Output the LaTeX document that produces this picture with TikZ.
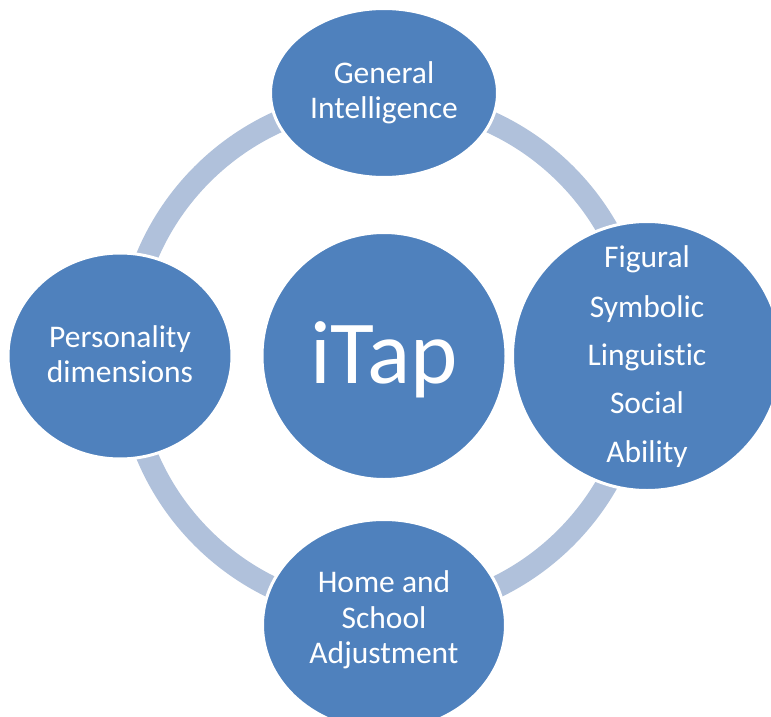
\documentclass[tikz,border=0pt]{standalone}
\usepackage{fontspec}
\setmainfont[Ligatures=NoCommon]{Carlito}
\usetikzlibrary{shapes.geometric}
\definecolor{shapeblue}{RGB}{79,129,189}
\definecolor{ringblue}{RGB}{176,193,219}
\begin{document}
\begin{tikzpicture}[x=1pt,y=-1pt,
  bubble/.style={ellipse, fill=shapeblue, draw=white, line width=3pt, inner sep=0pt, outer sep=0pt},
  lbl/.style={text=white, anchor=base, inner sep=0pt, font=\fontsize{31.5}{35}\selectfont},
  biglbl/.style={text=white, anchor=base, inner sep=0pt, font=\fontsize{90}{100}\selectfont},
  ring/.style={draw=ringblue, line width=22pt}]
\useasboundingbox (0,0) rectangle (771,717);
\coordinate (ctr) at (384,356);
\draw[ring] (ctr) circle[radius=257];
% shapes
\node[bubble, minimum width=227pt, minimum height=169pt] (gi) at (384,93) {};
\node[bubble, minimum width=269pt, minimum height=269pt] (ab) at (647,356) {};
\node[bubble, minimum width=224pt, minimum height=206pt] (pd) at (120,356) {};
\node[bubble, minimum width=243pt, minimum height=211pt] (hs) at (384,625) {};
\node[bubble, minimum width=244pt, minimum height=247pt] (it) at (384,356) {};
% texts
\node[lbl] (gi1) at (384,83) {General};
\node[lbl] (gi2) at (384,118) {Intelligence};
\node[lbl] (ab1) at (647,267) {Figural};
\node[lbl] (ab2) at (647,317) {Symbolic};
\node[lbl] (ab3) at (647,365) {Linguistic};
\node[lbl] (ab4) at (647,413) {Social};
\node[lbl] (ab5) at (647,462) {Ability};
\node[lbl] (pd1) at (120,347) {Personality};
\node[lbl] (pd2) at (120,382) {dimensions};
\node[lbl] (hs1) at (384,592) {Home and};
\node[lbl] (hs2) at (384,628) {School};
\node[lbl] (hs3) at (384,663) {Adjustment};
\node[biglbl] (it1) at (384,383) {iTap};
\end{tikzpicture}
\end{document}
